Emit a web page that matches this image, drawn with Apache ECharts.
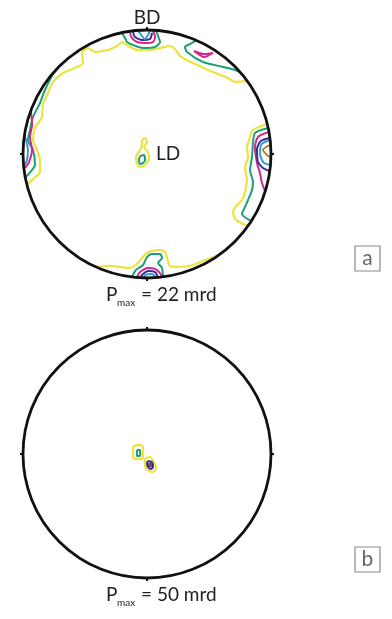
<!DOCTYPE html>
<html>
<head>
<meta charset="utf-8">
<script src="https://cdn.jsdelivr.net/npm/echarts@6/dist/echarts.min.js"></script>
<style>
  html, body { margin: 0; padding: 0; background: #fff; }
  #chart { width: 392px; height: 619px; }
</style>
</head>
<body>
<div id="chart"></div>
<script>
// Pole figures in equal-area projection, unit radius (x right, y up).
// Each contour is an ordered list of [x, y] projection points.

// ---- figure a ----
const aYellowRim = [[-0.968,-0.25],[-0.919,-0.202],[-0.863,-0.145],[-0.863,-0.048],[-0.887,0.032],[-0.919,0.113],[-0.903,0.21],[-0.847,0.298],[-0.839,0.403],[-0.798,0.492],[-0.758,0.581],[-0.677,0.653],[-0.581,0.694],[-0.516,0.734],[-0.524,0.815],[-0.476,0.855],[-0.419,0.823],[-0.315,0.839],[-0.242,0.871],[-0.202,0.903],[-0.161,0.879],[-0.081,0.839],[0.024,0.839],[0.105,0.855],[0.185,0.871],[0.226,0.847],[0.266,0.79],[0.371,0.734],[0.532,0.661],[0.653,0.613],[0.71,0.581],[0.806,0.589]];
const aGreenLeft = [[-0.976,-0.185],[-0.927,-0.129],[-0.903,-0.089],[-0.919,0.032],[-0.96,0.113],[-0.944,0.194],[-0.919,0.298],[-0.863,0.411],[-0.823,0.516],[-0.758,0.645],[-0.734,0.677]];
const aMagentaLeft = [[-0.984,-0.113],[-0.952,-0.065],[-0.927,0.032],[-0.944,0.137],[-0.927,0.234],[-0.935,0.339]];
const aBlueLeft = [[-0.992,-0.097],[-0.968,-0.048],[-0.96,0.032],[-0.976,0.113],[-0.992,0.161]];

const aGreenTop = [[-0.202,0.976],[-0.177,0.935],[-0.161,0.903],[-0.113,0.879],[-0.032,0.855],[0.065,0.863],[0.105,0.903],[0.089,0.952],[0.073,0.992]];
const aMagentaTop = [[-0.137,0.976],[-0.121,0.935],[-0.081,0.903],[-0.016,0.895],[0.048,0.903],[0.065,0.944],[0.048,0.992]];
const aNavyTop = [[-0.113,0.984],[-0.097,0.944],[-0.04,0.919],[0.024,0.927],[0.04,0.976]];
const aBlueTop = [[-0.073,0.992],[-0.04,0.952],[-0.016,0.927],[0.008,0.96],[0.024,0.992]];

const aGreenUpperRight = [[0.395,0.915],[0.347,0.887],[0.306,0.863],[0.323,0.823],[0.452,0.742],[0.613,0.702],[0.71,0.677],[0.75,0.661]];
const aMagentaUpperRight = [[0.379,0.831],[0.427,0.798],[0.46,0.782],[0.532,0.815],[0.46,0.806],[0.379,0.831]];

const aYellowRight = [[0.968,0.242],[0.855,0.194],[0.831,0.137],[0.806,0.048],[0.815,-0.024],[0.79,-0.113],[0.806,-0.21],[0.79,-0.306],[0.766,-0.371],[0.726,-0.411],[0.694,-0.468],[0.718,-0.532],[0.815,-0.581]];
const aGreenRight = [[0.976,0.21],[0.871,0.169],[0.855,0.089],[0.847,-0.024],[0.831,-0.129],[0.855,-0.226],[0.847,-0.29],[0.815,-0.371],[0.79,-0.427],[0.766,-0.484],[0.839,-0.54]];
const aMagentaRight = [[0.984,0.177],[0.895,0.137],[0.871,0.056],[0.887,-0.073],[0.911,-0.153],[0.927,-0.234],[0.952,-0.298]];
const aNavyRight = [[0.992,0.129],[0.919,0.105],[0.887,0.04],[0.895,-0.065],[0.935,-0.113],[0.992,-0.137]];
const aBlueRight = [[0.992,0.113],[0.927,0.081],[0.911,0.016],[0.919,-0.032],[0.944,-0.073],[0.992,-0.089]];
const aBrownRight = [[0.992,0.073],[0.935,0.032],[0.968,-0.008],[0.992,-0.024]];

const aYellowBottom = [[-0.395,-0.911],[-0.298,-0.903],[-0.218,-0.911],[-0.137,-0.919],[-0.073,-0.879],[-0.032,-0.831],[0,-0.798],[0.04,-0.782],[0.105,-0.774],[0.145,-0.79],[0.161,-0.831],[0.185,-0.903],[0.266,-0.911],[0.371,-0.895],[0.468,-0.855],[0.573,-0.819]];
const aGreenBottom = [[-0.121,-0.992],[-0.089,-0.935],[-0.032,-0.895],[0,-0.831],[0.04,-0.806],[0.105,-0.806],[0.121,-0.839],[0.089,-0.879],[0.121,-0.919],[0.129,-0.992]];
const aMagentaBottom = [[-0.081,-0.992],[-0.056,-0.952],[0.008,-0.919],[0.065,-0.927],[0.105,-0.96],[0.121,-0.992]];
const aNavyBottom = [[-0.056,-0.996],[-0.032,-0.968],[0.008,-0.944],[0.065,-0.952],[0.089,-0.996]];
const aBlueBottom = [[-0.032,-0.998],[-0.008,-0.972],[0.024,-0.968],[0.056,-0.976],[0.065,-0.998]];

const aYellowCentre = [[-0.04,0.113],[-0.016,0.129],[0,0.097],[-0.024,0.056],[0.008,0.016],[0.016,-0.032],[-0.016,-0.089],[-0.056,-0.105],[-0.081,-0.073],[-0.089,-0.024],[-0.065,0.016],[-0.048,0.048],[-0.04,0.089],[-0.04,0.113]];
const aGreenCentre = [[-0.056,-0.016],[-0.024,-0.008],[-0.016,-0.048],[-0.032,-0.073],[-0.056,-0.081],[-0.065,-0.048],[-0.056,-0.016]];

// ---- figure b ----
const bYellowLeft = [[-0.105,0.065],[-0.048,0.073],[-0.032,0.048],[-0.032,-0.024],[-0.048,-0.04],[-0.097,-0.04],[-0.113,-0.016],[-0.113,0.048],[-0.105,0.065]];
const bGreenLeft = [[-0.081,0.032],[-0.056,0.032],[-0.056,-0.016],[-0.081,-0.016],[-0.081,0.032]];
const bYellowRight = [[-0.008,-0.032],[0.024,-0.024],[0.056,-0.065],[0.073,-0.113],[0.048,-0.145],[0.016,-0.137],[-0.016,-0.097],[-0.016,-0.048],[-0.008,-0.032]];
const bNavyRight = [[0.008,-0.056],[0.04,-0.065],[0.048,-0.105],[0.032,-0.121],[0.008,-0.105],[0,-0.073],[0.008,-0.056]];
const bPeak = [[0.024,-0.089]];

// Peak intensities (multiples of random distribution)
const pMaxValues = ['22', '50'];
const panelLetters = ['a', 'b'];

const palette = {
  yellow: '#ece43e',
  green: '#1d9e74',
  magenta: '#d2288b',
  blue: '#3a98d6',
  navy: '#3a2f90',
  brown: '#b5812f'
};

const contours = [
  [0, 'yellow', aYellowRim], [0, 'green', aGreenLeft], [0, 'magenta', aMagentaLeft], [0, 'blue', aBlueLeft],
  [0, 'green', aGreenTop], [0, 'magenta', aMagentaTop], [0, 'navy', aNavyTop], [0, 'blue', aBlueTop],
  [0, 'green', aGreenUpperRight], [0, 'magenta', aMagentaUpperRight],
  [0, 'yellow', aYellowRight], [0, 'green', aGreenRight], [0, 'magenta', aMagentaRight], [0, 'navy', aNavyRight], [0, 'blue', aBlueRight], [0, 'brown', aBrownRight],
  [0, 'yellow', aYellowBottom], [0, 'green', aGreenBottom], [0, 'magenta', aMagentaBottom], [0, 'navy', aNavyBottom], [0, 'blue', aBlueBottom],
  [0, 'yellow', aYellowCentre], [0, 'green', aGreenCentre],
  [1, 'yellow', bYellowLeft], [1, 'green', bGreenLeft], [1, 'yellow', bYellowRight], [1, 'navy', bNavyRight]
];

const R = 124;
const centres = [[147, 154], [147, 454]];
const fontFamily = 'Lato, "Noto Sans", sans-serif';

const series = contours.map(([fig, level, pts]) => ({
  type: 'line',
  xAxisIndex: fig,
  yAxisIndex: fig,
  data: pts,
  showSymbol: false,
  smooth: 0.25,
  silent: true,
  animation: false,
  lineStyle: { color: palette[level], width: level === 'yellow' ? 2.2 : 2 },
  z: 3
}));
series.push({
  type: 'scatter',
  xAxisIndex: 1,
  yAxisIndex: 1,
  data: bPeak,
  symbolSize: 5,
  itemStyle: { color: '#4a1f3a' },
  silent: true,
  animation: false,
  z: 4
});

const grids = centres.map(c => ({ left: c[0] - R, top: c[1] - R, width: 2 * R, height: 2 * R }));
const axisOff = { min: -1, max: 1, show: false };

const textStyle = (text, size, color, align) => ({ text, font: size + 'px ' + fontFamily, fill: color, align, verticalAlign: 'middle' });

const graphics = [];
graphics.push({ type: 'text', x: 147, y: 18, style: textStyle('BD', 19, '#222', 'center') });
graphics.push({ type: 'text', x: 156, y: 154, style: textStyle('LD', 19, '#222', 'left') });
centres.forEach((c, i) => {
  const base = c[1] + 147;
  graphics.push({ type: 'text', x: 106, y: base - 6, style: textStyle('P', 19, '#222', 'left') });
  graphics.push({ type: 'text', x: 117, y: base + 2, style: textStyle('max', 10, '#222', 'left') });
  graphics.push({ type: 'text', x: 141, y: base - 6, style: textStyle('= ' + pMaxValues[i] + ' mrd', 19, '#222', 'left') });
  const boxTop = i === 0 ? 246 : 547;
  graphics.push({ type: 'rect', shape: { x: 355, y: boxTop, width: 25, height: 25 }, style: { fill: '#fff', stroke: '#8a8a8a', lineWidth: 1.2 } });
  graphics.push({ type: 'text', x: 367.5, y: boxTop + 12, style: textStyle(panelLetters[i], 21, '#666', 'center') });
});

const chart = echarts.init(document.getElementById('chart'), null, { renderer: 'canvas' });
chart.setOption({
  animation: false,
  backgroundColor: '#fff',
  grid: grids,
  xAxis: [Object.assign({ gridIndex: 0 }, axisOff), Object.assign({ gridIndex: 1 }, axisOff)],
  yAxis: [Object.assign({ gridIndex: 0 }, axisOff), Object.assign({ gridIndex: 1 }, axisOff)],
  polar: centres.map(c => ({ center: c, radius: R })),
  angleAxis: centres.map((c, i) => ({
    polarIndex: i, min: 0, max: 360, interval: 90, startAngle: 90, z: 10,
    axisLine: { show: true, lineStyle: { color: '#111', width: 2.8 } },
    axisTick: { show: true, length: 3, lineStyle: { color: '#111', width: 2 } },
    axisLabel: { show: false },
    splitLine: { show: false }
  })),
  radiusAxis: centres.map((c, i) => ({ polarIndex: i, min: 0, max: 1, show: false })),
  series: series,
  graphic: graphics
});
</script>
</body>
</html>
